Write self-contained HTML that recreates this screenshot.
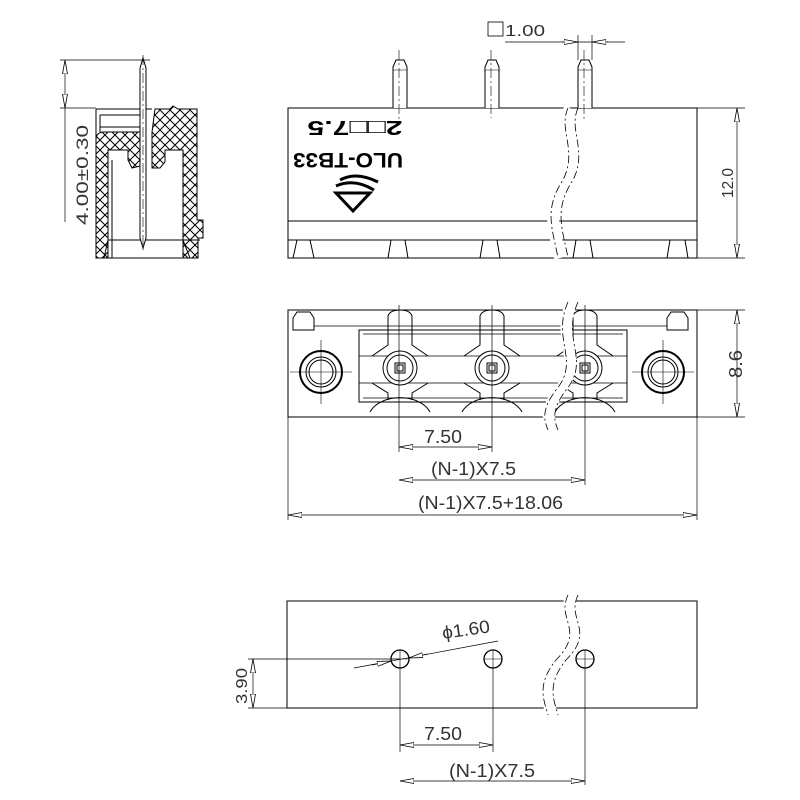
<!DOCTYPE html>
<html><head><meta charset="utf-8"><style>
html,body{margin:0;padding:0;background:#fff;width:800px;height:800px;overflow:hidden}
text{font-family:"Liberation Sans",sans-serif;fill:#333;stroke:none;font-weight:normal}
</style></head><body>
<svg width="800" height="800" viewBox="0 0 800 800" xmlns="http://www.w3.org/2000/svg">
<defs>
<pattern id="hx" width="10" height="10" patternUnits="userSpaceOnUse">
<path d="M0,0L10,10M10,0L0,10" stroke="#000" stroke-width="1"/>
</pattern>
<marker id="a" viewBox="0 0 14 6" refX="14" refY="3" markerWidth="14" markerHeight="6" markerUnits="userSpaceOnUse" orient="auto-start-reverse">
<path d="M0,0.5L14,3L0,5.5Z" fill="#fff" stroke="#000" stroke-width="0.8"/>
</marker>
</defs>
<g stroke="#000" fill="none" stroke-width="1">

<!-- SIDE VIEW -->
<path d="M60,60H150M60,108H96" stroke-width="0.7"/>
<line x1="65" y1="60" x2="65" y2="108" marker-start="url(#a)" marker-end="url(#a)" stroke-width="0.7"/>
<line x1="65" y1="108" x2="65" y2="222" stroke-width="0.7"/>
<path d="M96,140 Q96,132 104,132 L140,132 L140,166 L132,168 L128,160 L128,150 L108,150 L108,258 L96,258Z" fill="url(#hx)"/>
<path d="M152,168 L152,132 L155,109 L170,109 L173,106 L178,109 L197,109 L197,220 L203,220 L203,238 L198,238 L198,258 L183,258 L183,150 L165,150 L165,162 L160,168Z" fill="url(#hx)"/>
<path d="M96,109H152M96,109V258M100,115H140M100,127H140M100,115V132M108,258H198M112,160V258M108,240H200M108,240L104,258M183,240L190,258"/>
<path d="M140,68 L143,58 L146,68 V238 L143,248 L140,238Z" fill="#fff"/>
<path d="M143,55V252" stroke-dasharray="10,3,2,3" stroke-width="0.6"/>
<text transform="translate(88,225) rotate(-90)" font-size="17" textLength="100" lengthAdjust="spacingAndGlyphs">4.00±0.30</text>

<!-- FRONT VIEW -->
<rect x="288" y="108" width="409" height="150"/>
<path d="M288,221H697M288,240H697"/>
<path d="M293,258L297,240H310L314,258M388,258L391,240H405L408,258M480,258L483,240H497L500,258M573,258L576,240H590L593,258M667,258L670,240H685L688,258"/>
<g fill="#fff">
<path d="M393,108V67L396,60H404L407,67V108"/>
<path d="M485,108V67L488,60H496L499,67V108"/>
<path d="M578,108V67L581,60H589L592,67V108"/>
</g>
<path d="M393,70H407M485,70H499M578,70H592" stroke-width="0.6"/>
<path d="M399,50V120M491,50V118M584,50V120" stroke-dasharray="10,3,2,3" stroke-width="0.6"/>
<path d="M505,42H625M578,35V60M592,35V60" stroke-width="0.7"/>
<line x1="562" y1="42" x2="578" y2="42" marker-end="url(#a)" stroke-width="0.7"/>
<line x1="608" y1="42" x2="592" y2="42" marker-end="url(#a)" stroke-width="0.7"/>
<rect x="488" y="22" width="15" height="14" stroke-width="0.8"/>
<text x="505" y="36" font-size="16" textLength="40" lengthAdjust="spacingAndGlyphs">1.00</text>
<path d="M697,108H745M697,258H745" stroke-width="0.7"/>
<line x1="737" y1="108" x2="737" y2="258" marker-start="url(#a)" marker-end="url(#a)" stroke-width="0.7"/>
<text transform="translate(733,198) rotate(-90)" font-size="16" textLength="30" lengthAdjust="spacingAndGlyphs">12.0</text>
<text x="355" y="135" text-anchor="middle" font-size="20" style="font-weight:bold;fill:#000" textLength="95" lengthAdjust="spacingAndGlyphs" transform="rotate(180 355 128)">2□□7.5</text>
<text x="348" y="167" text-anchor="middle" font-size="21" style="font-weight:bold;fill:#000" textLength="110" lengthAdjust="spacingAndGlyphs" transform="rotate(180 348 160)">ULO-TB33</text>
<path d="M336,193 L370,193 L353,211Z" stroke-width="3"/>
<path d="M336,186 Q354,178 374,190 M340,180 Q356,171 378,182" stroke-width="3"/>
<path d="M570,108 C560,130 580,150 565,180 C545,210 555,230 560,258" stroke="#fff" stroke-width="12"/>
<path d="M568,108 C558,130 578,150 563,180 C543,210 553,230 558,258 M578,108 C568,130 588,150 573,180 C553,210 563,230 568,258" stroke-dasharray="8,3,2,3" stroke-width="0.8"/>

<!-- TOP VIEW -->
<rect x="288" y="310" width="409" height="107"/>
<path d="M293,330V318L297,312H310L314,318V330Z M667,330V318L671,312H684L688,318V330Z"/>
<path d="M314,326H667" stroke-width="0.8"/>
<rect x="359" y="330" width="268" height="72" fill="#fff"/>
<path d="M359,356H627M359,383H627M363,334H623M363,398H623" stroke-width="0.7"/>
<g fill="#fff">
<circle cx="321" cy="372" r="21" stroke-width="2"/><circle cx="321" cy="372" r="15"/><circle cx="321" cy="372" r="12"/>
<circle cx="663" cy="372" r="21" stroke-width="2"/><circle cx="663" cy="372" r="15"/><circle cx="663" cy="372" r="12"/>
</g>
<g>
<path d="M388,330V316Q390,310 400,310Q410,310 412,316V330M388,330V345L372,356M412,330V345L428,356M372,383L388,393V400M428,383L412,393V400" fill="none"/>
<path d="M480,330V316Q482,310 492,310Q502,310 504,316V330M480,330V345L464,356M504,330V345L520,356M464,383L480,393V400M520,383L504,393V400"/>
<path d="M573,330V316Q575,310 585,310Q595,310 597,316V330M573,330V345L557,356M597,330V345L613,356M557,383L573,393V400M613,383L597,393V400"/>
<path d="M370,412 A32,22 0 0 1 430,412 M462,412 A32,22 0 0 1 522,412 M555,412 A32,22 0 0 1 615,412"/>
<circle cx="400" cy="368" r="17" fill="#fff"/><circle cx="400" cy="368" r="13"/><rect x="395" y="363" width="10" height="10"/><rect x="397" y="365" width="6" height="6"/>
<circle cx="492" cy="368" r="17" fill="#fff"/><circle cx="492" cy="368" r="13"/><rect x="487" y="363" width="10" height="10"/><rect x="489" y="365" width="6" height="6"/>
<circle cx="585" cy="368" r="17" fill="#fff"/><circle cx="585" cy="368" r="13"/><rect x="580" y="363" width="10" height="10"/><rect x="582" y="365" width="6" height="6"/>
</g>
<path d="M321,340V404M290,372H352M663,340V404M632,372H694" stroke-width="0.6"/>
<path d="M399,305V452M492,305V452M585,305V485M288,417V520M697,417V520" stroke-width="0.7"/>
<path d="M697,310H745M697,417H745" stroke-width="0.7"/>
<line x1="737" y1="310" x2="737" y2="417" marker-start="url(#a)" marker-end="url(#a)" stroke-width="0.7"/>
<text transform="translate(742,378) rotate(-90)" font-size="18" textLength="28" lengthAdjust="spacingAndGlyphs">8.6</text>
<path d="M572,302 C555,340 585,360 560,390 C545,410 548,420 552,430" stroke="#fff" stroke-width="12"/>
<path d="M568,302 C551,340 581,360 556,390 C541,410 544,420 548,430 M578,302 C561,340 591,360 566,390 C551,410 554,420 558,430" stroke-dasharray="8,3,2,3" stroke-width="0.8"/>
<line x1="399" y1="447" x2="492" y2="447" marker-start="url(#a)" marker-end="url(#a)" stroke-width="0.7"/>
<text x="424" y="443" font-size="18" textLength="38" lengthAdjust="spacingAndGlyphs">7.50</text>
<line x1="399" y1="480" x2="585" y2="480" marker-start="url(#a)" marker-end="url(#a)" stroke-width="0.7"/>
<text x="431" y="475" font-size="18" textLength="85" lengthAdjust="spacingAndGlyphs">(N-1)X7.5</text>
<line x1="288" y1="515" x2="697" y2="515" marker-start="url(#a)" marker-end="url(#a)" stroke-width="0.7"/>
<text x="418" y="509" font-size="18" textLength="145" lengthAdjust="spacingAndGlyphs">(N-1)X7.5+18.06</text>

<!-- BOTTOM VIEW -->
<rect x="287" y="601" width="410" height="107"/>
<path d="M572,595 C560,620 590,630 560,660 C540,685 548,700 552,715" stroke="#fff" stroke-width="12"/>
<path d="M568,595 C556,620 586,630 556,660 C536,685 544,700 548,715 M578,595 C566,620 596,630 566,660 C546,685 554,700 558,715" stroke-dasharray="8,3,2,3" stroke-width="0.8"/>
<circle cx="400" cy="659" r="9" stroke-width="1.3"/><circle cx="493" cy="659" r="9" stroke-width="1.3"/><circle cx="585" cy="659" r="9" stroke-width="1.3"/>
<path d="M391,659H409M400,650V668M484,659H502M493,650V668M576,659H594M585,650V668" stroke-width="0.6"/>
<path d="M400,668V752M493,668V752M585,668V785M248,659H400M248,708H287" stroke-width="0.7"/>
<line x1="253" y1="659" x2="253" y2="708" marker-start="url(#a)" marker-end="url(#a)" stroke-width="0.7"/>
<text transform="translate(247,704) rotate(-90)" font-size="16" textLength="36" lengthAdjust="spacingAndGlyphs">3.90</text>
<path d="M354,668L498,641" stroke-width="0.7"/>
<line x1="372" y1="665" x2="391" y2="661" marker-end="url(#a)" stroke-width="0.7"/>
<line x1="428" y1="654" x2="409" y2="658" marker-end="url(#a)" stroke-width="0.7"/>
<text x="443" y="639" font-size="18" textLength="48" lengthAdjust="spacingAndGlyphs" transform="rotate(-8 443 639)">ϕ1.60</text>
<line x1="400" y1="745" x2="493" y2="745" marker-start="url(#a)" marker-end="url(#a)" stroke-width="0.7"/>
<text x="424" y="740" font-size="18" textLength="38" lengthAdjust="spacingAndGlyphs">7.50</text>
<line x1="400" y1="781" x2="585" y2="781" marker-start="url(#a)" marker-end="url(#a)" stroke-width="0.7"/>
<text x="449" y="777" font-size="18" textLength="86" lengthAdjust="spacingAndGlyphs">(N-1)X7.5</text>
</g>
</svg>
</body></html>
